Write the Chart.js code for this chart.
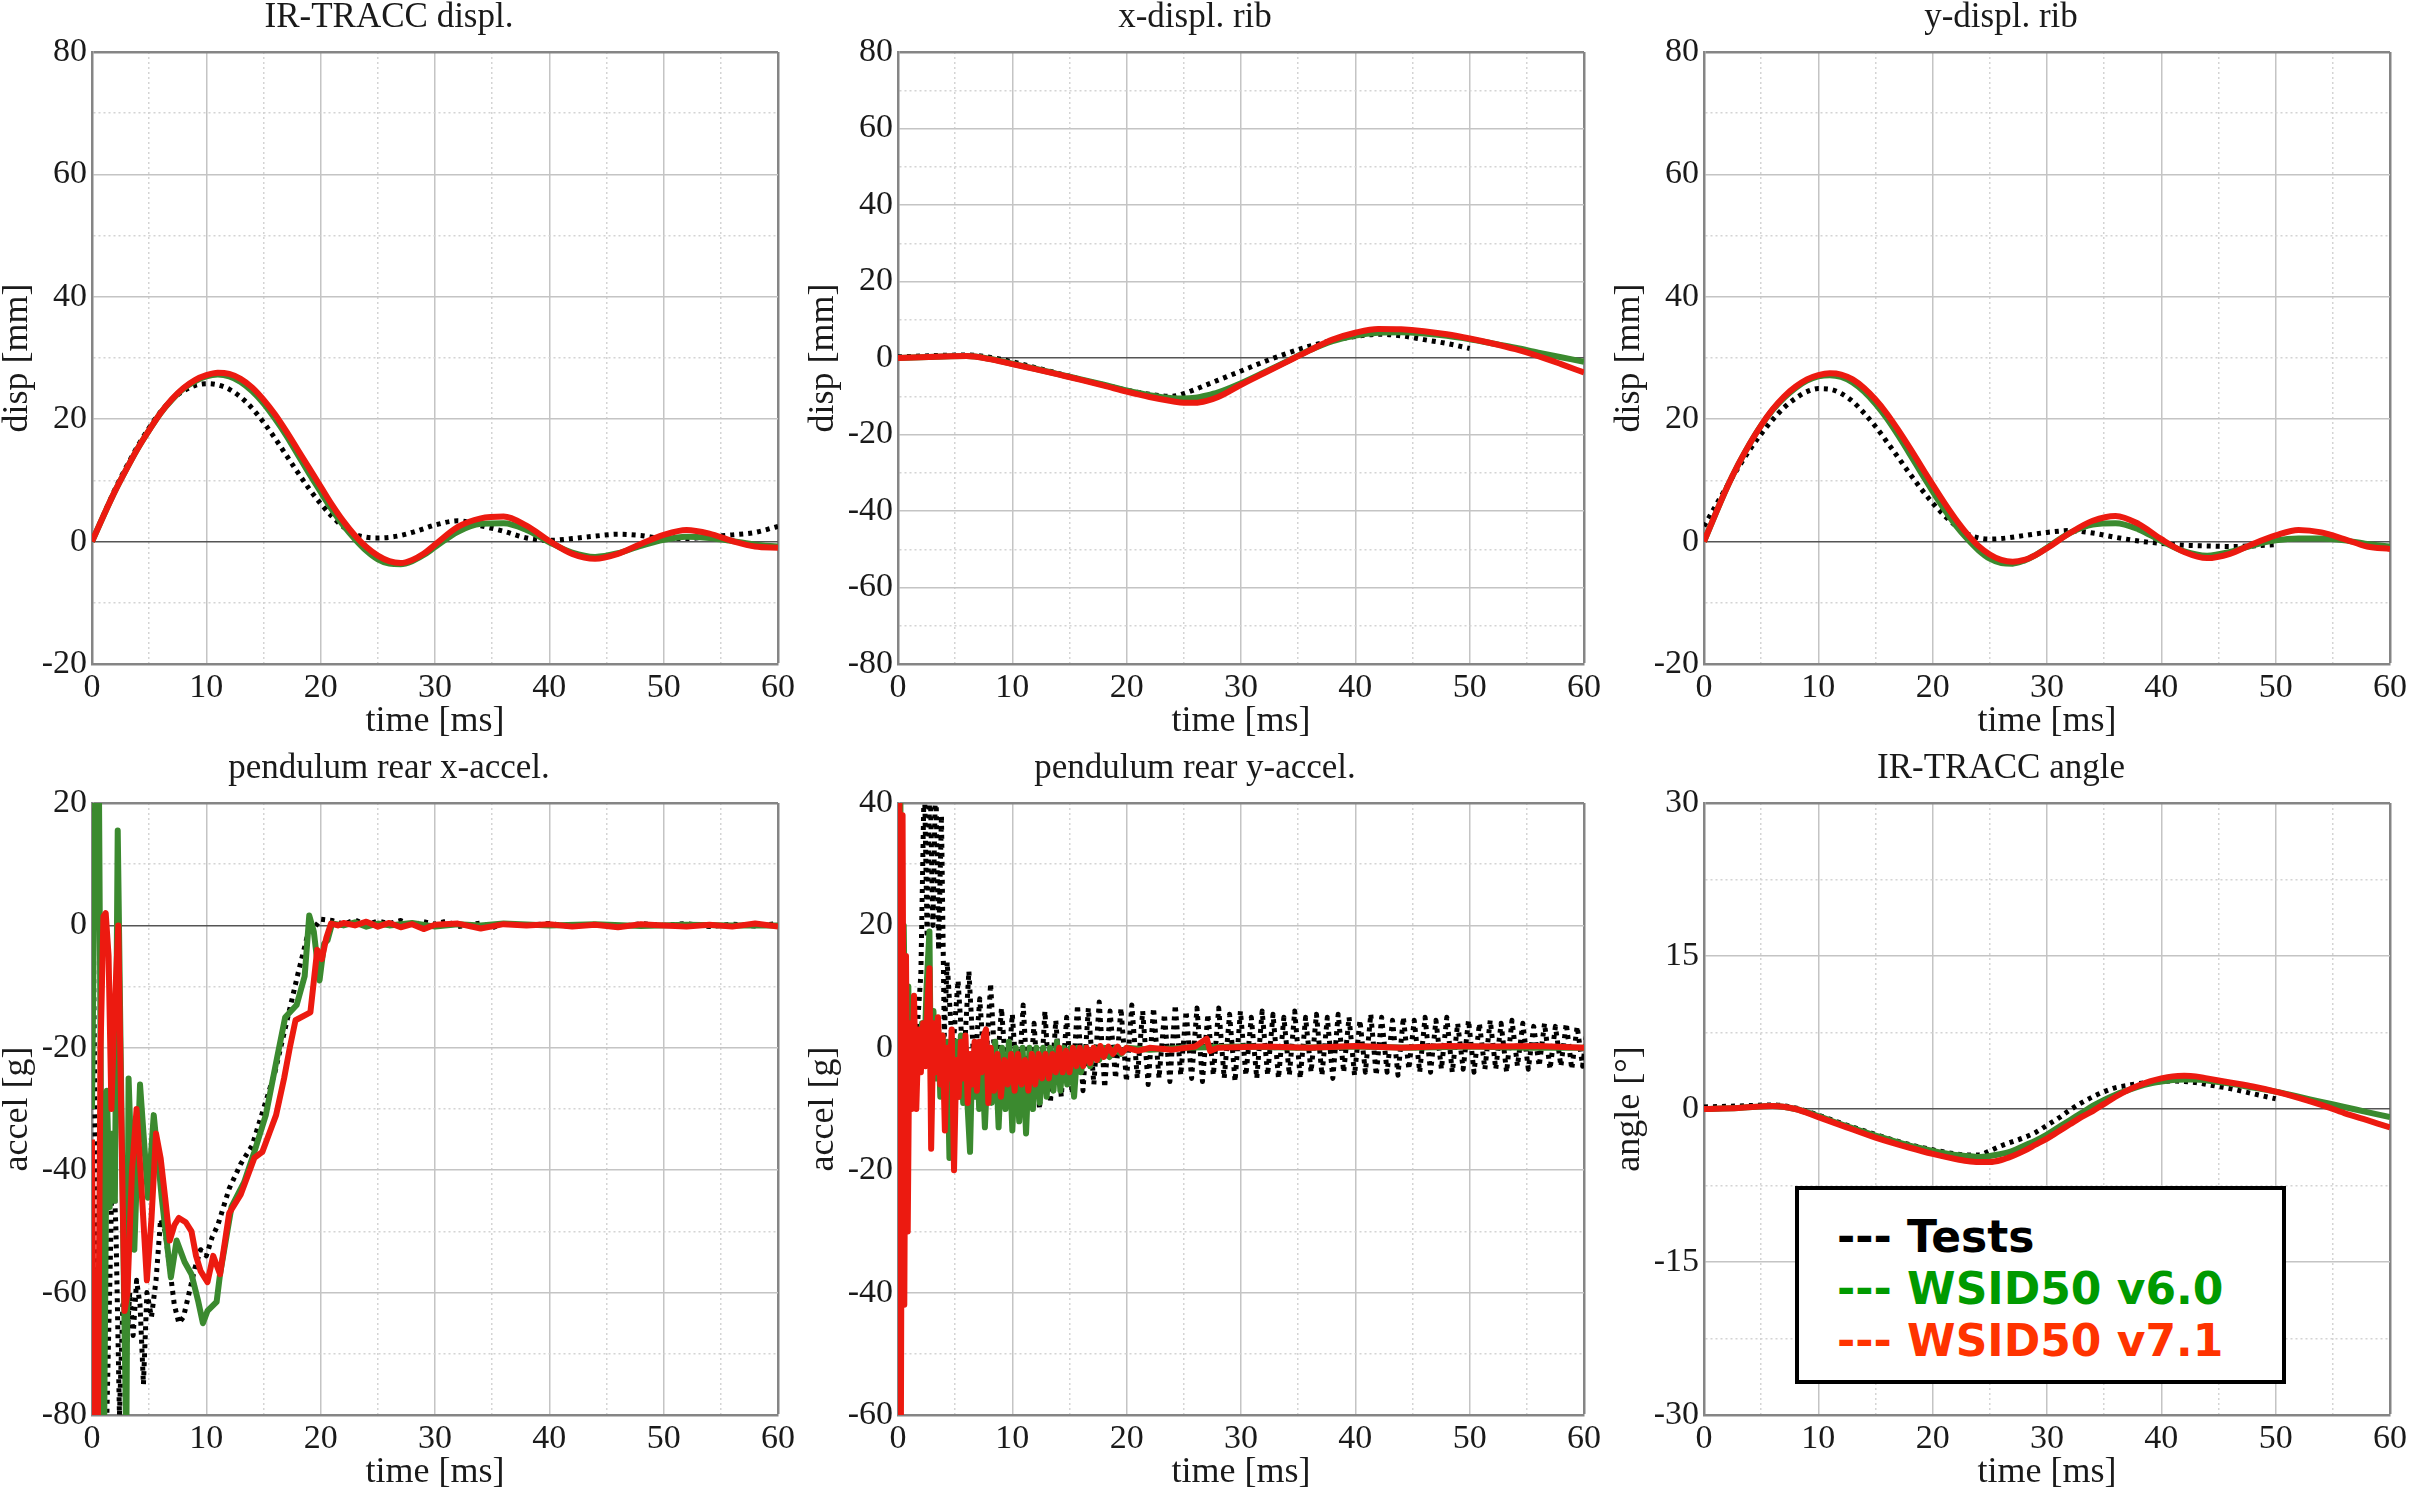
<!DOCTYPE html>
<html>
<head>
<meta charset="utf-8">
<script src="https://cdn.jsdelivr.net/npm/chart.js@4.4.1/dist/chart.umd.min.js"></script>
<style>
  html, body { margin: 0; padding: 0; background: #fff; overflow: hidden; }
  #page { position: relative; width: 2410px; height: 1492px; }
  canvas { position: absolute; }
  #legend {
    position: absolute; left: 1795px; top: 1186px; width: 483px; height: 190px;
    border: 4px solid #000; background: #fff; box-sizing: content-box;
    font-family: "DejaVu Sans", Verdana, sans-serif; font-weight: bold; font-size: 44px;
    line-height: 52px; padding: 0; 
  }
  #legend div { padding-left: 38px; white-space: pre; }
  #legend .first { margin-top: 21px; }
</style>
</head>
<body>
<div id="page">
  <canvas id="c1" width="806" height="740" style="left:0px;top:0px"></canvas>
  <canvas id="c2" width="806" height="740" style="left:806px;top:0px"></canvas>
  <canvas id="c3" width="806" height="740" style="left:1612px;top:0px"></canvas>
  <canvas id="c4" width="806" height="740" style="left:0px;top:751px"></canvas>
  <canvas id="c5" width="806" height="740" style="left:806px;top:751px"></canvas>
  <canvas id="c6" width="806" height="740" style="left:1612px;top:751px"></canvas>
  <div id="legend">
    <div class="first" style="color:#000">--- Tests</div>
    <div style="color:#009a00">--- WSID50 v6.0</div>
    <div style="color:#ff3300">--- WSID50 v7.1</div>
  </div>
</div>
<script>
// =========================
// DATOS
// =========================

// IR-TRACC displ. / y-displ. rib (misma base de tiempo)
const dispT = [0,1,2,3,4,5,6,7,8,9,10,11,12,13,14,15,16,17,18,19,20,21,22,23,24,25,26,27,28,29,30,32,34,36,38,40,42,44,46,48,50,52,54,56,58,60];
const irDispV71 = [0,4.2,8.2,11.8,15.2,18.2,21,23.3,25.1,26.4,27.2,27.6,27.4,26.6,25.2,23.2,20.8,18.0,15.0,12.0,9.0,6.0,3.3,1.0,-0.9,-2.3,-3.2,-3.5,-3.0,-2.0,-0.5,2.4,3.8,4.1,2.6,0.1,-2.0,-2.8,-2.0,-0.4,1.1,1.9,1.3,0.1,-0.8,-1.0];
const irDispV60 = [0,4.2,8.2,11.8,15.2,18.2,21,23.2,25,26.2,27,27.3,27.0,26.1,24.6,22.6,20.1,17.3,14.2,11.1,8.1,5.2,2.6,0.4,-1.5,-2.9,-3.6,-3.7,-3.2,-2.2,-0.9,1.6,2.9,3.0,1.9,-0.1,-1.8,-2.5,-1.9,-0.7,0.3,0.8,0.6,0.1,-0.5,-0.8];
const irDispTest = [0,4.3,8.5,12.2,15.6,18.6,21.2,23.2,24.6,25.5,25.8,25.6,24.9,23.6,21.8,19.5,16.9,14.1,11.3,8.6,6.2,4.1,2.4,1.2,0.7,0.6,0.7,1.0,1.5,2.1,2.7,3.4,2.6,1.7,0.6,0.2,0.5,0.9,1.2,1.0,0.5,0.5,0.8,1.1,1.5,2.5];

// x-displ. rib
const ribXT = [0,2,4,6,8,10,12,14,16,18,20,22,24,25,26,27,28,30,32,34,36,38,40,42,44,46,48,50,52,54,56,58,60];
const ribXV71 = [0,0.2,0.4,0.5,-0.3,-1.6,-2.9,-4.3,-5.7,-7.2,-8.8,-10.2,-11.3,-11.7,-11.7,-11.2,-10.2,-7.0,-4.0,-1.0,2.0,4.8,6.6,7.6,7.5,7.0,6.2,5.1,3.8,2.3,0.5,-1.6,-3.8];
const ribXV60 = [0,0.2,0.4,0.5,-0.2,-1.5,-2.8,-4.2,-5.6,-7.0,-8.5,-9.7,-10.5,-10.6,-10.4,-9.8,-9.0,-6.6,-3.8,-0.9,2.0,4.4,5.9,6.6,6.7,6.4,5.8,4.9,3.8,2.7,1.4,0.2,-1.0];
const ribXTestT = [0,2,4,6,8,10,12,14,16,18,20,22,24,25,26,28,30,32,34,36,38,40,42,44,46,48,50];
const ribXTest = [0.3,0.5,0.7,0.8,0.2,-1.0,-2.5,-4.0,-5.6,-7.0,-8.4,-9.5,-10.0,-9.3,-8.2,-5.8,-3.4,-1.0,1.2,3.1,4.6,5.6,6.2,5.8,4.8,3.8,2.5];

// y-displ. rib
const ribYV71 = [0,4.5,8.8,12.6,16.0,19.0,21.6,23.7,25.3,26.5,27.2,27.5,27.3,26.5,25.1,23.2,20.9,18.2,15.3,12.3,9.3,6.4,3.7,1.3,-0.7,-2.1,-3.0,-3.3,-3.0,-2.2,-1.1,1.4,3.4,4.2,2.9,0.4,-1.7,-2.7,-2.0,-0.4,1.0,1.9,1.5,0.4,-0.8,-1.2];
const ribYV60 = [0,4.5,8.8,12.6,16,19,21.5,23.5,25.1,26.3,27.0,27.2,26.9,26.0,24.5,22.5,20.1,17.3,14.3,11.2,8.2,5.3,2.7,0.5,-1.4,-2.8,-3.5,-3.6,-3.1,-2.2,-1.0,1.4,2.8,3.0,2.0,0.1,-1.6,-2.3,-1.7,-0.6,0.2,0.5,0.5,0.2,-0.4,-0.8];
const ribYTestT = [0,1,2,3,4,5,6,7,8,9,10,11,12,13,14,15,16,17,18,19,20,21,22,23,24,25,26,28,30,32,34,36,38,40,42,44,46,48,50];
const ribYTest = [2.5,5.8,9.0,12.1,15.0,17.6,19.9,21.9,23.4,24.5,25.0,24.9,24.2,22.9,21.0,18.8,16.3,13.7,11.1,8.6,6.3,4.3,2.6,1.3,0.6,0.4,0.5,1.0,1.5,1.8,1.4,0.7,0.1,-0.3,-0.6,-0.7,-0.8,-0.7,-0.5];

// pendulum rear x-accel.
const xAccT71 = [0,0.2,0.5,0.75,1.0,1.2,1.45,1.7,1.95,2.3,2.55,2.85,3.1,3.5,3.9,4.3,4.8,5.2,5.6,6.0,6.4,6.8,7.2,7.6,8.2,8.7,9.1,9.5,10.1,10.6,11.2,11.6,12.0,13.0,14.2,14.9,15.5,16.1,16.8,17.3,17.8,19.1,19.7,20.1,20.5,20.9,21.5,22,23,24,25,26,27,28,29,30,32,34,36,38,40,42,44,46,48,50,52,54,56,58,60];
const xAccV71 = [-35,-85,-85,-20,1.5,2,-5,-30,-15,0,-30,-63,-60,-40,-30,-42,-58,-48,-34,-38,-44.5,-51.5,-49,-47.8,-48.5,-50,-54,-56.5,-58.3,-54,-57,-52,-47,-44,-38,-37,-34,-31,-25,-20,-15.5,-14.2,-4,-5.5,-2,0.3,0,0.4,0,0.6,-0.2,0.4,-0.3,0.2,-0.6,0.1,0.3,-0.5,0.2,0,0.2,-0.2,0.1,-0.3,0.2,0,-0.2,0.1,-0.2,0.3,-0.2];
const xAccT60 = [0,0.3,0.6,0.85,1.05,1.3,1.55,1.8,2.0,2.25,2.5,2.8,3.0,3.2,3.7,4.2,4.9,5.4,6.1,6.9,7.4,8.1,8.7,9.3,9.7,10.1,10.9,11.2,12.2,13.3,14.2,15.2,16.2,16.9,17.9,18.6,19.0,19.4,19.9,20.3,20.6,21.0,22,23,24,25,26,28,30,32,34,36,40,44,48,52,56,60];
const xAccV60 = [-30,25,25,-50,-85,-27,-46,-34,-45,15.5,-20,-60,-85,-25,-53,-26,-44.5,-31,-44.5,-57.5,-51.5,-55,-57,-61.5,-65,-63,-61.5,-57,-46,-42,-37,-31,-21.5,-15,-13,-8.3,1.6,-1,-9,-3,-2.4,0.3,0,0.5,-0.2,0.3,0,0.4,-0.2,0.2,0,0.3,0,0.2,-0.1,0.1,0,0];
const xAccTestT = [0,0.25,0.5,0.9,1.3,1.6,1.8,2.1,2.4,2.7,3.0,3.3,3.6,3.9,4.2,4.5,4.8,5.2,5.6,6.0,6.4,6.8,7.2,7.6,8.0,8.5,9.0,9.5,10.0,10.5,11.0,12.0,13.0,14.0,15.0,16.0,17.0,18.0,18.8,19.4,20.0,21,22,23,24,25,26,27,28,29,30,31,32,34,35,36,38,40,42,44,46,48,50,52,54,56,58,60];
const xAccTest = [25,-30,-85,-85,-80,-55,-35,-50,-80,-62,-70,-60,-67,-58,-62,-75,-60,-64,-58,-48,-50,-56,-62,-65,-64,-60,-56,-53,-54,-51,-49,-43,-39,-36,-30,-24,-16,-8,-2,-0.5,1,0.8,0.2,0.9,0.1,0.7,0.3,0.8,0,0.6,0.2,0.7,-0.2,0.4,-0.4,0.3,0,0.3,-0.2,0.2,-0.3,0.3,0,0.3,-0.2,0.2,-0.1,0.3];

// pendulum rear y-accel.
const yAccT71 = [0,0.12,0.25,0.4,0.55,0.7,0.85,1.0,1.2,1.4,1.6,1.8,2.0,2.2,2.4,2.6,2.75,2.9,3.1,3.3,3.5,3.7,3.9,4.1,4.3,4.5,4.7,4.9,5.1,5.3,5.5,5.7,5.9,6.1,6.3,6.5,6.7,6.9,7.1,7.3,7.5,7.7,7.9,8.1,8.4,8.7,9.0,9.3,9.6,9.9,10.2,10.5,10.8,11.1,11.4,11.7,12.0,12.3,12.6,12.9,13.2,13.5,13.8,14.1,14.4,14.7,15.0,15.3,15.6,15.9,16.2,16.5,16.8,17.1,17.4,17.7,18.0,18.4,18.8,19.2,19.6,20,21,22,24,26,27,27.3,28,32,36,40,44,48,52,56,60];
const yAccV71 = [0,45,-65,38,-42,15,-30,4,-10,8.5,-10,3,-4,4,-3,8,13,-16.5,4,-4,5,-6,2,-13.5,0,-5,3,-20,-2,-8,1,-5,2,-9,-1,-6,1,-7,1,-4,2,3,-9,0,-7,-1,-8,-2,-6,-1,-7,-1,-6,-2,-7,-1,-6,-1,-5,-1,-5,-1,-4,0,-4,-0.5,-4,0,-3,0,-3,0,-2.5,0,-2,0.3,-1.5,0.2,-1,0.2,-0.8,0,-0.5,0,-0.3,0.2,1.5,-0.5,0,0.2,0,0.3,0,0.3,0.2,0.3,0];
const yAccT60 = [0,0.1,0.2,0.3,0.5,0.7,0.9,1.1,1.3,1.5,1.7,1.9,2.1,2.3,2.5,2.75,2.9,3.1,3.3,3.5,3.7,3.9,4.1,4.3,4.5,4.7,4.9,5.1,5.3,5.5,5.7,5.9,6.1,6.3,6.5,6.7,6.9,7.1,7.3,7.6,7.9,8.2,8.5,8.8,9.1,9.4,9.7,10.0,10.3,10.6,10.9,11.2,11.5,11.8,12.1,12.4,12.7,13.0,13.3,13.6,13.9,14.2,14.5,14.8,15.1,15.4,15.7,16.0,16.4,16.8,17.2,17.6,18.0,18.5,19,19.5,20,22,25,30,35,40,45,50,55,60];
const yAccV60 = [0,40,48,-20,20,-10,10,-8,6,-8,2,-3,4,-2,10,19,-10,6,-5,4,-8,2,-8,1,-18,0,-5,1,-8,2,-9,0,-10,-17,-1,-8,0,-10,1,-13,0,-9,1,-13,0,-10,1,-13.5,0,-12,0,-14,0,-10,0,-9,0,-8,0,-7,1,-7,0,-6,0,-8,0,-4,0,-3,0,-2,0,-1.5,0,-1,0,-0.3,0,0.2,0,0.2,0,0.2,0,0];
const yAccTestT = [0,0.5,1.0,1.5,2.0,2.3,2.55,2.8,3.05,3.3,3.55,3.8,4.05,
  4.30,4.78,5.25,5.73,6.20,6.68,7.15,7.63,8.10,8.58,9.05,9.53,10.00,10.48,10.95,11.43,11.90,12.38,12.85,13.33,13.80,14.28,14.75,15.23,15.70,16.18,16.65,17.13,17.60,18.08,18.55,19.03,19.50,19.98,
  20.45,20.93,21.40,21.88,22.35,22.83,23.30,23.78,24.25,24.73,25.20,25.68,26.15,26.63,27.10,27.58,28.05,28.53,29.00,29.48,29.95,30.43,30.90,31.38,31.85,32.33,32.80,33.28,33.75,34.23,34.70,35.18,35.65,36.13,36.60,37.08,37.55,38.03,38.50,38.98,39.45,39.93,
  40.40,40.88,41.35,41.83,42.30,42.78,43.25,43.73,44.20,44.68,45.15,45.63,46.10,46.58,47.05,47.53,48.00,48.48,48.95,49.43,49.90,50.38,50.85,51.33,51.80,52.28,52.75,53.23,53.70,54.18,54.65,55.13,55.60,56.08,56.55,57.03,57.50,57.98,58.45,58.93,59.40,59.88,60.35];
const yAccTest = [0,-3,5,-2,12,45,18,45,20,45,16,38,2,
  14,-1,11,-3,12.5,-4,8,-5,10.5,-6,6.5,-6,5.5,-8,7,-9,4,-10,6,-9,4.5,-8,5,-7.5,7,-7,6.5,-6,7.5,-6.5,6,-5,6.5,-5.5,
  7,-5,6,-6,6.5,-5,5.5,-5.5,7,-4.5,6,-5,6.5,-5.5,5.5,-4.5,6.5,-5,5.5,-5.5,6,-4.5,5,-5,6,-4.5,5.5,-5,5,-4.5,6,-5,5,-4,5.5,-4.5,5,-5,5.5,-4,5,-4.5,
  4.5,-4,5.5,-4.5,5,-4,4.5,-4.5,5,-3.5,4.5,-4,5,-4,4.5,-3.5,5,-4,4,-3.5,4.5,-4,4,-3.5,4.5,-3.5,4,-4,4.5,-3,4,-3.5,3.5,-3,4,-3.5,3.5,-3,4,-3.5,3.5,-3,4];

// IR-TRACC angle
const angT = [0,3,6,8,10,12,15,18,20,22,23,24,25,26,27,28,29,30,31,32,33,34,35,36,37,38,39,40,41,42,43,44,46,48,50,52,54,56,58,60];
const angV71 = [0,0.1,0.3,0,-0.8,-1.6,-2.8,-3.8,-4.4,-4.9,-5.1,-5.2,-5.2,-5.0,-4.6,-4.1,-3.5,-2.9,-2.2,-1.5,-0.8,-0.2,0.5,1.2,1.8,2.3,2.7,3.0,3.2,3.25,3.2,3.0,2.6,2.2,1.7,1.1,0.4,-0.4,-1.1,-1.8];
const angV60 = [0,0.1,0.3,0,-0.7,-1.5,-2.6,-3.6,-4.1,-4.5,-4.6,-4.7,-4.6,-4.4,-4.1,-3.6,-3.1,-2.5,-1.8,-1.1,-0.4,0.3,0.9,1.4,1.8,2.2,2.5,2.7,2.85,2.9,2.9,2.8,2.5,2.1,1.7,1.2,0.7,0.2,-0.3,-0.8];
const angTestT = [0,3,6,8,10,12,15,18,20,22,23,24,25,26,27,28,29,30,31,32,33,34,35,36,37,38,39,40,41,42,43,44,46,48,50];
const angTest = [0.2,0.3,0.4,0.1,-0.6,-1.4,-2.5,-3.5,-4.0,-4.4,-4.5,-4.5,-4.1,-3.6,-3.2,-2.8,-2.3,-1.6,-0.9,-0.1,0.6,1.2,1.7,2.1,2.3,2.5,2.6,2.7,2.75,2.7,2.6,2.4,2.0,1.5,1.0];

// =========================
// ESTILO
// =========================
const SERIF = '"Liberation Serif", "DejaVu Serif", serif';
const RED = '#ec1a10';
const GREEN = '#3b8a2f';
const BLACK = '#000000';
const FRAME = '#858585';
const MAJOR = '#c4c4c4';
const MINOR = '#d4d4d4';
const ZERO = '#555555';
const TXT = '#1a1a1a';

const pts = (ts, vs) => ts.map((t, i) => ({x: t, y: vs[i]}));

function isMajor(v, major){
    const r = Math.abs(v / major - Math.round(v / major));
    return r < 1e-6;
}

function gridColor(c, max, major, zeroLine){
    if (!c.tick) return MAJOR;
    const v = c.tick.value;
    if (Math.abs(v - max) < 1e-6) return FRAME;
    if (zeroLine && Math.abs(v) < 1e-6) return ZERO;
    return isMajor(v, major) ? MAJOR : MINOR;
}

function gridWidth(c, max){
    if (!c.tick) return 1.5;
    return Math.abs(c.tick.value - max) < 1e-6 ? 2.5 : 1.5;
}

function gridDash(c, major){
    if (!c.tick) return [];
    return isMajor(c.tick.value, major) ? [] : [2, 3];
}

function serie(t, v, color, smooth, dashed){
    return {
        data: pts(t, v),
        borderColor: color,
        borderWidth: dashed ? 5 : 6,
        borderDash: dashed ? [4, 5] : [],
        borderCapStyle: 'butt',
        borderJoinStyle: 'round',
        pointRadius: 0,
        fill: false,
        tension: 0,
        cubicInterpolationMode: smooth ? 'monotone' : 'default',
        clip: 0
    };
}

// =========================
// GRAFICOS
// =========================
function drawPanel(id, title, yTitle, yMin, yMax, yStep, yMajor, datasets){
    const el = document.getElementById(id);
    new Chart(el.getContext('2d'), {
        type: 'line',
        data: { datasets: datasets },
        options: {
            responsive: false,
            animation: false,
            devicePixelRatio: 1,
            layout: { padding: { left: 0, right: 28, top: 0, bottom: 0 } },
            plugins: {
                legend: { display: false },
                tooltip: { enabled: false },
                title: {
                    display: true, text: title, color: TXT,
                    font: { family: SERIF, size: 35, weight: 'normal', lineHeight: 1.0 },
                    padding: { top: 0, bottom: 17 }
                }
            },
            scales: {
                x: {
                    type: 'linear', min: 0, max: 60,
                    afterFit: s => { s.height = 76; },
                    ticks: {
                        stepSize: 5, autoSkip: false, maxRotation: 0, padding: 4,
                        color: TXT, font: { family: SERIF, size: 34 },
                        callback: v => isMajor(v, 10) ? String(v) : ''
                    },
                    grid: {
                        drawTicks: false,
                        color: c => gridColor(c, 60, 10, false),
                        lineWidth: c => gridWidth(c, 60)
                    },
                    border: { color: FRAME, width: 2.5, dash: c => gridDash(c, 10) },
                    title: {
                        display: true, text: 'time [ms]', color: TXT,
                        font: { family: SERIF, size: 36, lineHeight: 1.0 },
                        padding: { top: 0, bottom: 0 }
                    }
                },
                y: {
                    type: 'linear', min: yMin, max: yMax,
                    afterFit: s => { s.width = 92; },
                    ticks: {
                        stepSize: yStep, autoSkip: false, padding: 5,
                        color: TXT, font: { family: SERIF, size: 34 },
                        callback: v => isMajor(v, yMajor) ? String(v) : ''
                    },
                    grid: {
                        drawTicks: false,
                        color: c => gridColor(c, yMax, yMajor, true),
                        lineWidth: c => gridWidth(c, yMax)
                    },
                    border: { color: FRAME, width: 2.5, dash: c => gridDash(c, yMajor) },
                    title: {
                        display: true, text: yTitle, color: TXT,
                        font: { family: SERIF, size: 36, lineHeight: 1.0 },
                        padding: { top: 0, bottom: 0 }
                    }
                }
            }
        }
    });
}

// orden: rojo encima, luego verde, luego ensayos
drawPanel('c1', 'IR-TRACC displ.', 'disp [mm]', -20, 80, 10, 20, [
    serie(dispT, irDispV71, RED, true),
    serie(dispT, irDispV60, GREEN, true),
    serie(dispT, irDispTest, BLACK, true, true)
]);
drawPanel('c2', 'x-displ. rib', 'disp [mm]', -80, 80, 10, 20, [
    serie(ribXT, ribXV71, RED, true),
    serie(ribXT, ribXV60, GREEN, true),
    serie(ribXTestT, ribXTest, BLACK, true, true)
]);
drawPanel('c3', 'y-displ. rib', 'disp [mm]', -20, 80, 10, 20, [
    serie(dispT, ribYV71, RED, true),
    serie(dispT, ribYV60, GREEN, true),
    serie(ribYTestT, ribYTest, BLACK, true, true)
]);
drawPanel('c4', 'pendulum rear x-accel.', 'accel [g]', -80, 20, 10, 20, [
    serie(xAccT71, xAccV71, RED, false),
    serie(xAccT60, xAccV60, GREEN, false),
    serie(xAccTestT, xAccTest, BLACK, false, true)
]);
drawPanel('c5', 'pendulum rear y-accel.', 'accel [g]', -60, 40, 10, 20, [
    serie(yAccT71, yAccV71, RED, false),
    serie(yAccT60, yAccV60, GREEN, false),
    serie(yAccTestT, yAccTest, BLACK, false, true)
]);
drawPanel('c6', 'IR-TRACC angle', 'angle [°]', -30, 30, 7.5, 15, [
    serie(angT, angV71, RED, true),
    serie(angT, angV60, GREEN, true),
    serie(angTestT, angTest, BLACK, true, true)
]);
</script>
</body>
</html>
